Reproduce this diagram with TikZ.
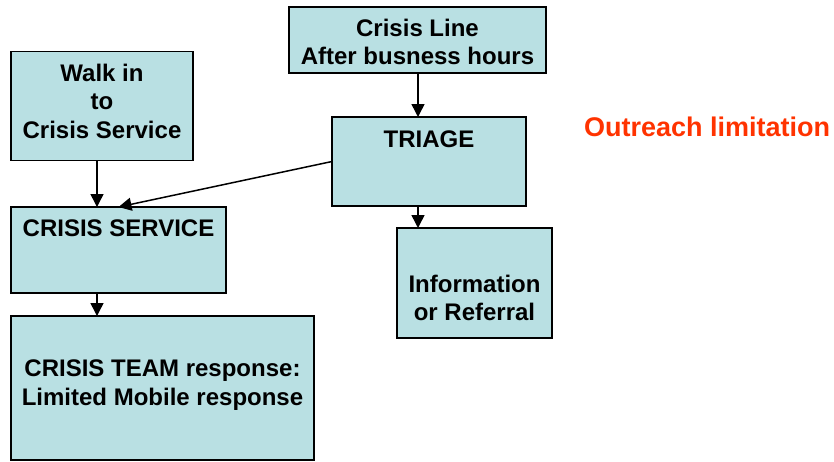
\documentclass[tikz,border=0pt]{standalone}
\usepackage{fontspec}
\setmainfont{Liberation Sans}
\usetikzlibrary{arrows.meta}
\definecolor{boxfill}{RGB}{185,224,227}
\definecolor{outred}{RGB}{255,51,0}
\begin{document}
\begin{tikzpicture}[x=1pt,y=-1pt,
  box/.style={draw=black, fill=boxfill, line width=1.3pt, inner sep=0pt, outer sep=0pt},
  lbl/.style={font=\fontsize{24}{28.5}\selectfont\bfseries, align=center, inner sep=0pt},
  arr/.style={line width=1.5pt, -{Triangle[length=13pt,width=13pt]}}]
\useasboundingbox (0,0) rectangle (834,461);
% boxes
\node[box, minimum width=257, minimum height=66] (cl) at (417.5,40) {};
\node[box, minimum width=182, minimum height=109] (walk) at (102,106) {};
\node[box, minimum width=194, minimum height=89] (tri) at (429,161.5) {};
\node[box, minimum width=215, minimum height=86] (cs) at (118.5,250) {};
\node[box, minimum width=155, minimum height=110] (info) at (474.5,283) {};
\node[box, minimum width=303, minimum height=144] (ct) at (162.5,388) {};
% texts
\node[lbl] (clt) at (417.5,42) {Crisis Line\\After busness hours};
\node[lbl] (walkt) at (102,101) {Walk in\\to\\Crisis Service};
\node[lbl] (trit) at (429,139) {TRIAGE};
\node[lbl] (cst) at (118.5,228) {CRISIS SERVICE};
\node[lbl] (infot) at (474.5,298) {Information\\or Referral};
\node[lbl] (ctt) at (162.5,385) {CRISIS TEAM response:\\Limited Mobile response};
\node[lbl, font=\fontsize{27}{32}\selectfont\bfseries, text=outred, anchor=west] (out) at (584,127) {Outreach limitation};
% arrows
\draw[arr] (418,0 |- cl.south) -- (418,0 |- tri.north);
\draw[arr] (418,0 |- tri.south) -- (418,0 |- info.north);
\draw[arr] (97,0 |- walk.south) -- (97,0 |- cs.north);
\draw[arr] (97,0 |- cs.south) -- (97,0 |- ct.north);
\draw[arr] (tri.west) -- (cs.north);
\end{tikzpicture}
\end{document}
